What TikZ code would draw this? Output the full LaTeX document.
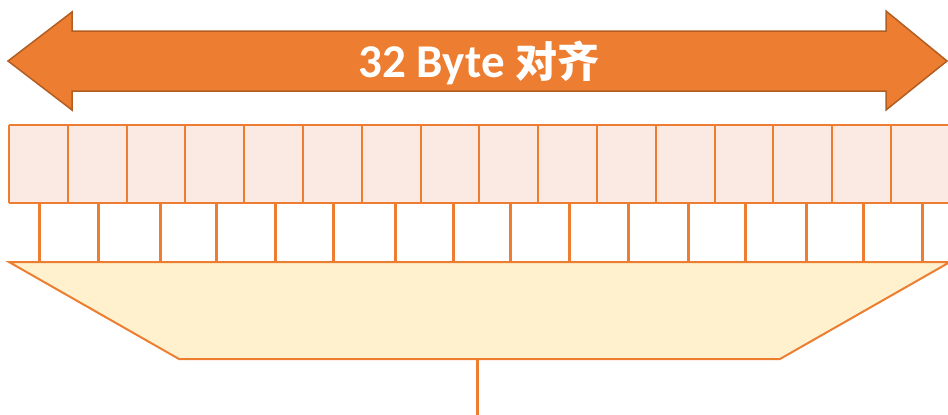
\documentclass[tikz,border=0pt]{standalone}
\usepackage{fontspec}
\setmainfont{Carlito}
\newfontfamily\cjkfont{Noto Sans CJK SC}
\definecolor{orangemain}{HTML}{ED7D31}
\definecolor{orangedark}{HTML}{B25D22}
\definecolor{cellpink}{HTML}{FBEAE4}
\definecolor{trapfill}{HTML}{FFF1CD}
\tikzset{
  arrowbody/.style={fill=orangemain, draw=orangedark, line width=1.5pt, line join=miter},
  titletext/.style={text=white, font=\fontsize{47}{52}\selectfont\bfseries, inner sep=0pt},
  cellline/.style={draw=orangemain, line width=2pt},
  gapline/.style={draw=orangemain, line width=3pt},
  trapbox/.style={fill=trapfill, draw=orangemain, line width=2pt, line join=miter},
}
\begin{document}
\begin{tikzpicture}[x=1pt,y=-1pt]
\useasboundingbox (0,0) rectangle (948,415);
\clip (0,0) rectangle (948,415);
% double arrow
\draw[arrowbody] (8,61) -- (72,12) -- (72,31) -- (886,31) -- (886,11) -- (947,61)
  -- (886,110) -- (886,91) -- (72,91) -- (72,110) -- cycle;
\node[titletext] (title) at (479,63) {32 Byte {\cjkfont\fontsize{42}{48}\selectfont\bfseries 对齐}};
% top row of cells
\fill[cellpink] (9,125) rectangle (952,203);
\draw[cellline] (9,125) -- (952,125);
\draw[cellline] (9,203) -- (952,203);
\foreach \k in {0,...,15} {
  \draw[cellline] ({9+\k*58.8},125) -- ({9+\k*58.8},203);
}
% trapezoid
\draw[trapbox] (9,262) -- (950,262) -- (780,359) -- (179,359) -- cycle;
% second row separators
\foreach \xx in {39,98,160,216,275,333,395,453,510,569,628,688,745,806,863,922} {
  \draw[gapline] (\xx,203) -- (\xx,262);
}
\coordinate (stemtop) at (477,359);
\coordinate (stembot) at (477,416);
\draw[gapline] (stemtop) -- (stembot);
\end{tikzpicture}
\end{document}
